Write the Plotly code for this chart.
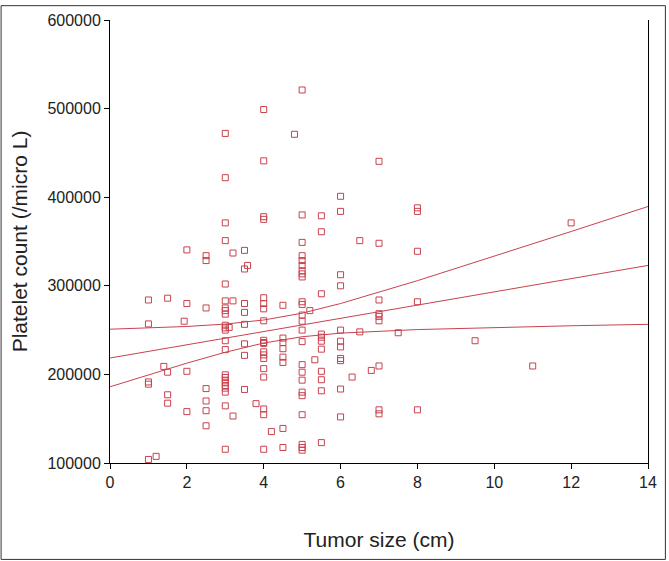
import plotly.graph_objects as go

# Scatter data: tumor size (cm) and platelet count (/micro L)
tumor_size = [
    1, 1, 1, 1, 1, 1.2, 1.4, 1.5, 1.5, 1.5, 1.5,
    2, 2, 1.93, 2, 2,
    2.5, 2.5, 2.5, 2.5, 2.5, 2.5, 2.5,
    3, 3, 3, 3, 3, 3, 3, 3, 3, 3, 3, 3, 3, 3, 3, 3, 3, 3, 3, 3, 3, 3, 3,
    3.1, 3.2, 3.2, 3.2,
    3.5, 3.5, 3.5, 3.5, 3.5, 3.5, 3.5, 3.5, 3.58, 3.8,
    4, 4, 4, 4, 4, 4, 4, 4, 4, 4, 4, 4, 4, 4, 4, 4, 4, 4, 4, 4.2,
    4.5, 4.5, 4.5, 4.5, 4.5, 4.5, 4.5, 4.5, 4.8,
    5, 5, 5, 5, 5, 5, 5, 5, 5, 5, 5, 5, 5, 5, 5, 5, 5, 5, 5, 5, 5, 5, 5, 5,
    5.2, 5.33,
    5.5, 5.5, 5.5, 5.5, 5.5, 5.5, 5.5, 5.5, 5.5, 5.5, 5.5,
    6, 6, 6, 6, 6, 6, 6, 6, 6, 6, 6,
    6.3, 6.5, 6.5, 6.8,
    7, 7, 7, 7, 7, 7, 7, 7, 7,
    7.5, 8, 8, 8, 8, 8, 9.5, 11, 12,
]
platelet = [
    284000, 257000, 191500, 189000, 104000, 107500, 209000, 286000, 202500, 177000, 167500,
    340500, 280000, 260000, 203500, 158000,
    334000, 328500, 275000, 184000, 170000, 159000, 142000,
    472000, 422000, 371000, 351000, 302000, 283000, 275000, 272000, 268000, 255500, 252500,
    250000, 238000, 228000, 199500, 196500, 193500, 190500, 187500, 184500, 180000, 164500, 115500,
    253000, 337000, 283000, 153000,
    340000, 280000, 270000, 256500, 234500, 221500, 183000, 319000, 323000, 167000,
    499000, 441000, 378000, 375000, 286500, 280000, 274000, 260500, 238500, 236000, 235000,
    225500, 222000, 218000, 206500, 197000, 161000, 154500, 115500, 135500,
    278000, 241000, 236000, 229000, 219500, 213500, 139000, 117500, 471000,
    521000, 380000, 349000, 334000, 328500, 323000, 317000, 313500, 310000, 282000, 279000,
    267000, 260000, 250000, 237000, 211000, 202500, 193500, 180000, 176000, 154500, 121000,
    117500, 114500,
    272000, 216500,
    379000, 361000, 291000, 245500, 242000, 237500, 228500, 203500, 194000, 181500, 123000,
    401000, 384000, 312500, 300000, 250000, 237500, 231000, 218000, 215500, 183500, 152000,
    197000, 351000, 248000, 204500,
    440500, 348000, 284000, 268500, 265500, 260500, 209500, 160000, 155500,
    247000, 388000, 384000, 339000, 282000, 160000, 238000, 209500, 371000,
]

# Regression line and 95% confidence band, read at several x positions
line_x = [0, 2, 3, 4, 5, 6, 8, 10, 12, 14]
fit_y = [218500, 233400, 240900, 248400, 255800, 263300, 278200, 293100, 308100, 323000]
upper_y = [251000, 254100, 256800, 261400, 269100, 280000, 305800, 333200, 361300, 389500]
lower_y = [186000, 212700, 225000, 235400, 242500, 246600, 250600, 253000, 254900, 256500]

x_ticks = [0, 2, 4, 6, 8, 10, 12, 14]
y_ticks = [100000, 200000, 300000, 400000, 500000, 600000]

red = "#c8424e"

fig = go.Figure()
for ys in (upper_y, fit_y, lower_y):
    fig.add_trace(go.Scatter(x=line_x, y=ys, mode="lines",
                             line=dict(color=red, width=1), hoverinfo="skip"))
fig.add_trace(go.Scatter(
    x=tumor_size, y=platelet, mode="markers",
    marker=dict(symbol="square-open", size=6, color=red, line=dict(width=1, color=red)),
))

W, H = 669, 561
ml, mr, mt, mb = 110, 18, 15, 98
pw, ph = W - ml - mr, H - mt - mb

fig.update_layout(
    width=W, height=H,
    margin=dict(l=ml, r=mr, t=mt, b=mb, pad=0),
    paper_bgcolor="white", plot_bgcolor="white",
    showlegend=False,
    font=dict(family="Liberation Sans, Arial, sans-serif", color="#222222", size=16),
    xaxis=dict(
        range=[0, 14], tickvals=x_ticks, ticktext=[str(v) for v in x_ticks],
        showgrid=False, zeroline=False, showline=True, linecolor="black", linewidth=1,
        ticks="outside", ticklen=5, tickcolor="black", tickfont=dict(size=16),
        title=dict(text="Tumor size (cm)", font=dict(size=21), standoff=42),
        mirror=False,
    ),
    yaxis=dict(
        range=[100000, 600000], tickvals=y_ticks, ticktext=[str(v) for v in y_ticks],
        showgrid=False, zeroline=False, showline=True, linecolor="black", linewidth=1,
        ticks="outside", ticklen=5, tickcolor="black", tickfont=dict(size=16),
        title=dict(text="Platelet count (/micro L)", font=dict(size=21), standoff=14),
        mirror=True,
    ),
)

# thin frame around the whole image
fig.add_shape(type="rect", xref="paper", yref="paper",
              x0=(0.5 - ml) / pw, x1=(W - 0.5 - ml) / pw,
              y0=-(mb - 0.5) / ph, y1=1 + (mt - 0.5) / ph,
              line=dict(color="#333333", width=1), fillcolor="rgba(0,0,0,0)", layer="above")

fig.write_html(
    "out.html",
    config={"displayModeBar": False},
    post_script="document.body.style.margin='0';document.body.style.overflow='hidden';",
)
